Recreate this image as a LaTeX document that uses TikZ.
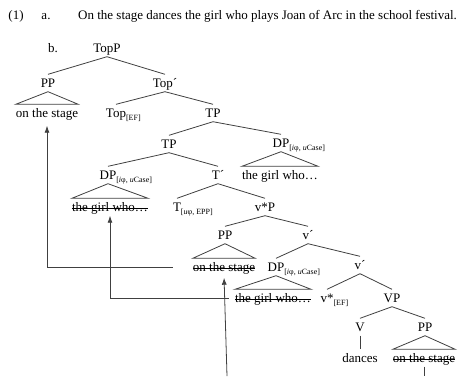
\documentclass[tikz,border=0pt]{standalone}
\usepackage{fontspec}
\setmainfont{Liberation Serif}
\usetikzlibrary{arrows.meta}
\newcommand{\subl}[1]{\rlap{\raisebox{-2.5pt}{\fontsize{8}{9}\selectfont #1}}}
\begin{document}
\begin{tikzpicture}[x=1pt,y=-1pt,
  lab/.style={font=\fontsize{13}{15}\selectfont, inner xsep=0pt, inner ysep=4pt, text height=9pt, text depth=0pt},
  edge/.style={draw, line width=0.8pt, black!75},
  mv/.style={draw, line width=0.8pt, black!75, -{Latex[length=7pt,width=5pt]}},
  struck/.style={append after command={[draw=black!80, line width=0.7pt] ([yshift=-1.3pt]\tikzlastnode.west) edge ([yshift=-1.3pt]\tikzlastnode.east)}}
]
\useasboundingbox (0,0) rectangle (460,376);
% example header
\node[lab] (n1) at (16,15) {(1)};
\node[lab] (na) at (46,15) {a.};
\node[lab, anchor=west] (sent) at (78,15) {On the stage dances the girl who plays Joan of Arc in the school festival.};
\node[lab] (nb) at (53,48) {b.};
% tree nodes
\node[lab] (topp) at (107,48) {TopP};
\node[lab] (pp1) at (48,83) {PP};
\node[lab] (topbar) at (165,83) {Top´};
\node[lab] (ots1) at (47,113) {on the stage};
\node[lab] (top) at (116,113) {Top\subl{[EF]}};
\node[lab] (tp1) at (213,113) {TP};
\node[lab] (tp2) at (169,144) {TP};
\node[lab] (dp1) at (281,143) {DP\subl{[\textit{i}φ, \textit{u}Case]}};
\node[lab] (gw1) at (280,175) {the girl who…};
\node[lab] (dp2) at (108,175) {DP\subl{[\textit{i}φ, \textit{u}Case]}};
\node[lab] (tbar) at (218,175) {T´};
\node[lab, struck] (gw2) at (110,207) {the girl who…};
\node[lab] (t) at (177,207) {T\subl{[\textit{u}φ, EPP]}};
\node[lab] (vsp) at (265,207) {v*P};
\node[lab] (pp2) at (225,235) {PP};
\node[lab] (vbar1) at (308,235) {v´};
\node[lab, struck] (ots2) at (224,267) {on the stage};
\node[lab] (dp3) at (276,267) {DP\subl{[\textit{i}φ, \textit{u}Case]}};
\node[lab] (vbar2) at (360,265) {v´};
\node[lab, struck] (gw3) at (273,298) {the girl who…};
\node[lab] (vs) at (327,298) {v*\subl{[EF]}};
\node[lab] (vp) at (392,298) {VP};
\node[lab] (v) at (360,327) {V};
\node[lab] (pp3) at (425,327) {PP};
\node[lab] (dances) at (360,358) {dances};
\node[lab, struck] (ots3) at (424,358) {on the stage};
\coordinate (bot1) at (227,376);
\coordinate (bot2) at (424,376);
% branches
\draw[edge] (topp.south) -- (pp1.north);
\draw[edge] (topp.south) -- (topbar.north);
\draw[edge] (topbar.south) -- (top.north);
\draw[edge] (topbar.south) -- (tp1.north);
\draw[edge] (tp1.south) -- (tp2.north);
\draw[edge] (tp1.south) -- (dp1.north);
\draw[edge] (tp2.south) -- (dp2.north);
\draw[edge] (tp2.south) -- (tbar.north);
\draw[edge] (tbar.south) -- (t.north);
\draw[edge] (tbar.south) -- (vsp.north);
\draw[edge] (vsp.south) -- (pp2.north);
\draw[edge] (vsp.south) -- (vbar1.north);
\draw[edge] (vbar1.south) -- (dp3.north);
\draw[edge] (vbar1.south) -- (vbar2.north);
\draw[edge] (vbar2.south) -- (vs.north);
\draw[edge] (vbar2.south) -- (vp.north);
\draw[edge] (vp.south) -- (v.north);
\draw[edge] (vp.south) -- (pp3.north);
\draw[edge] (v.south) -- (dances.north);
% triangles
\draw[edge] (pp1.south) -- (ots1.north west) -- (ots1.north east) -- cycle;
\draw[edge] (dp1.south) -- (gw1.north west) -- (gw1.north east) -- cycle;
\draw[edge] (dp2.south) -- (gw2.north west) -- (gw2.north east) -- cycle;
\draw[edge] (pp2.south) -- (ots2.north west) -- (ots2.north east) -- cycle;
\draw[edge] (dp3.south) -- (gw3.north west) -- (gw3.north east) -- cycle;
\draw[edge] (pp3.south) -- (ots3.north west) -- (ots3.north east) -- cycle;
% movement
\draw[mv, shorten >=4pt] ([xshift=-20pt]ots2.west) -| (ots1.south);
\draw[mv] ([xshift=-6pt]gw3.west) -| (gw2.south);
\draw[mv, shorten >=2pt] (bot1) -- (ots2.south);
\draw[edge] (ots3.south) -- (bot2);
\end{tikzpicture}
\end{document}
